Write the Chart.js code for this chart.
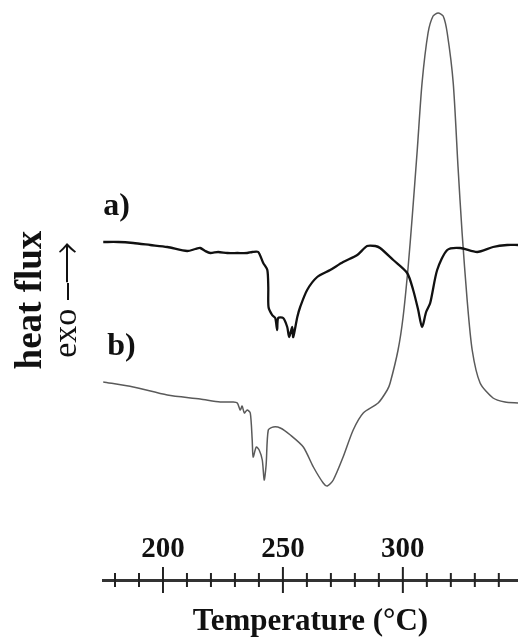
<!DOCTYPE html>
<html>
<head>
<meta charset="utf-8">
<script src="https://cdn.jsdelivr.net/npm/chart.js@4"></script>
<style>
  body { margin: 0; background: #fff; }
</style>
</head>
<body>
<canvas id="chart" width="518" height="644"></canvas>
<script>
const ctx = document.getElementById('chart').getContext('2d');

// temperatures (°C) read off the trace a)
const temp_a = [175.1, 181.4, 187.6, 194.7, 201.8, 210.1, 213.5, 215.5, 217.6, 219.7, 223.0, 226.8,
  231.0, 235.1, 237.2, 239.7, 241.8, 243.5, 243.9, 244.0, 245.5, 246.8, 247.6, 248.0, 250.1, 251.8,
  252.6, 253.9, 254.3, 256.0, 257.2, 260.1, 264.3, 269.7, 275.1, 281.0, 285.1, 288.5, 290.5, 296.0,
  301.8, 304.3, 306.4, 308.0, 309.7, 311.4, 314.3, 318.5, 323.9, 331.0, 337.6, 343.5, 348.0];
// heat flux, arbitrary units
const flux_a = [33.8, 33.8, 33.7, 33.5, 33.3, 32.9, 33.1, 33.2, 32.9, 32.7, 32.8, 32.7,
  32.7, 32.7, 32.8, 32.8, 31.7, 31.0, 29.3, 27.3, 26.5, 26.2, 25.0, 26.2, 26.2, 25.3,
  24.3, 25.3, 24.3, 26.3, 27.3, 29.0, 30.3, 31.0, 31.8, 32.5, 33.4, 33.4, 33.2, 32.0,
  30.7, 29.0, 27.0, 25.3, 26.8, 27.7, 31.0, 33.0, 33.2, 32.8, 33.3, 33.5, 33.5];

// trace b)
const temp_b = [175.1, 187.6, 201.8, 215.5, 223.9, 229.3, 231.0, 232.2, 233.0, 233.9, 235.1, 236.4,
  237.2, 237.6, 238.9, 240.1, 241.4, 242.2, 243.0, 243.9, 246.0, 248.9, 253.1, 258.5, 262.7, 266.8,
  268.5, 271.0, 275.1, 279.3, 283.5, 289.7, 293.5, 294.7, 298.0, 300.1, 302.2, 303.9, 306.0, 308.0,
  310.5, 312.6, 314.7, 316.8, 318.5, 321.0, 323.0, 324.7, 326.8, 328.9, 332.2, 337.6, 342.6, 348.0];
const flux_b = [19.8, 19.3, 18.5, 18.1, 17.8, 17.8, 17.7, 17.0, 17.4, 16.7, 17.0, 16.7,
  14.0, 12.3, 13.3, 13.0, 12.0, 10.0, 11.5, 15.0, 15.3, 15.2, 14.5, 13.3, 11.3, 9.7,
  9.4, 10.0, 12.3, 15.0, 16.7, 17.7, 19.0, 19.7, 23.0, 26.3, 31.3, 36.3, 43.0, 49.7,
  54.7, 56.4, 56.7, 56.4, 54.7, 49.7, 41.3, 34.7, 28.0, 23.0, 19.7, 18.2, 17.8, 17.7];

const curve_labels = ['a)', 'b)'];
const major_ticks = [200, 250, 300];

const serif = '"Liberation Serif", "Times New Roman", serif';

function toPoints(xs, ys) {
  return xs.map((x, i) => ({ x: x, y: ys[i] }));
}

// tick marks crossing the axis line, majors longer
const crossTicks = {
  id: 'crossTicks',
  afterDraw(chart) {
    const sx = chart.scales.x;
    const c = chart.ctx;
    const y0 = sx.top;
    c.save();
    c.strokeStyle = '#222';
    c.lineWidth = 2;
    sx.ticks.forEach(t => {
      const px = sx.getPixelForValue(t.value);
      const h = major_ticks.includes(t.value) ? 13 : 7;
      c.beginPath();
      c.moveTo(px, y0 - h);
      c.lineTo(px, y0 + h);
      c.stroke();
    });
    c.restore();
  }
};

// a) / b) written above the start of each trace
const curveLabels = {
  id: 'curveLabels',
  afterDatasetsDraw(chart) {
    const c = chart.ctx;
    c.save();
    c.font = 'bold 32px ' + serif;
    c.fillStyle = '#111';
    c.textAlign = 'left';
    c.textBaseline = 'alphabetic';
    chart.data.datasets.forEach((ds, i) => {
      const p = chart.getDatasetMeta(i).data[0];
      c.fillText(ds.label, p.x + i * 4, p.y - 27);
    });
    c.restore();
  }
};

new Chart(ctx, {
  type: 'line',
  data: {
    datasets: [
      {
        label: curve_labels[0],
        data: toPoints(temp_a, flux_a),
        borderColor: '#111',
        borderWidth: 2.3,
        pointRadius: 0,
        tension: 0.25,
        clip: false
      },
      {
        label: curve_labels[1],
        data: toPoints(temp_b, flux_b),
        borderColor: '#5a5a5a',
        borderWidth: 1.5,
        pointRadius: 0,
        tension: 0.25,
        clip: false
      }
    ]
  },
  options: {
    responsive: false,
    animation: false,
    devicePixelRatio: 1,
    layout: { padding: { top: 20, right: 0, bottom: 0, left: 0 } },
    plugins: {
      legend: { display: false },
      tooltip: { enabled: false }
    },
    scales: {
      x: {
        type: 'linear',
        min: 175,
        max: 348,
        grid: { display: false, drawTicks: false },
        border: { display: true, color: '#333', width: 3 },
        ticks: {
          stepSize: 10,
          includeBounds: false,
          autoSkip: false,
          maxRotation: 0,
          mirror: true,
          padding: 15.5,
          color: '#111',
          font: { family: serif, size: 29, weight: 'bold', lineHeight: 1 },
          callback: function (value) {
            return major_ticks.includes(value) ? value : '';
          }
        },
        title: {
          display: true,
          text: 'Temperature (°C)',
          color: '#111',
          font: { family: serif, size: 31, weight: 'bold', lineHeight: 1 },
          padding: { top: 0, bottom: 6.5 }
        },
        afterFit: function (scale) { scale.height = 64; }
      },
      y: {
        type: 'linear',
        position: 'left',
        min: 0,
        max: 56,
        grid: { display: false },
        border: { display: false },
        ticks: { display: false },
        title: {
          display: true,
          text: 'exo \u23af\u27f6',
          color: '#111',
          font: { family: serif, size: 34, lineHeight: 1 },
          padding: { top: 4, bottom: 0 }
        },
        afterFit: function (scale) { scale.width = 57; }
      },
      y2: {
        type: 'linear',
        position: 'left',
        weight: 10,
        grid: { display: false },
        border: { display: false },
        ticks: { display: false },
        title: {
          display: true,
          text: 'heat flux',
          color: '#111',
          font: { family: serif, size: 37, weight: 'bold', lineHeight: 1 },
          padding: { top: 12.5, bottom: 0 }
        },
        afterFit: function (scale) { scale.width = 46; }
      }
    }
  },
  plugins: [crossTicks, curveLabels]
});
</script>
</body>
</html>
